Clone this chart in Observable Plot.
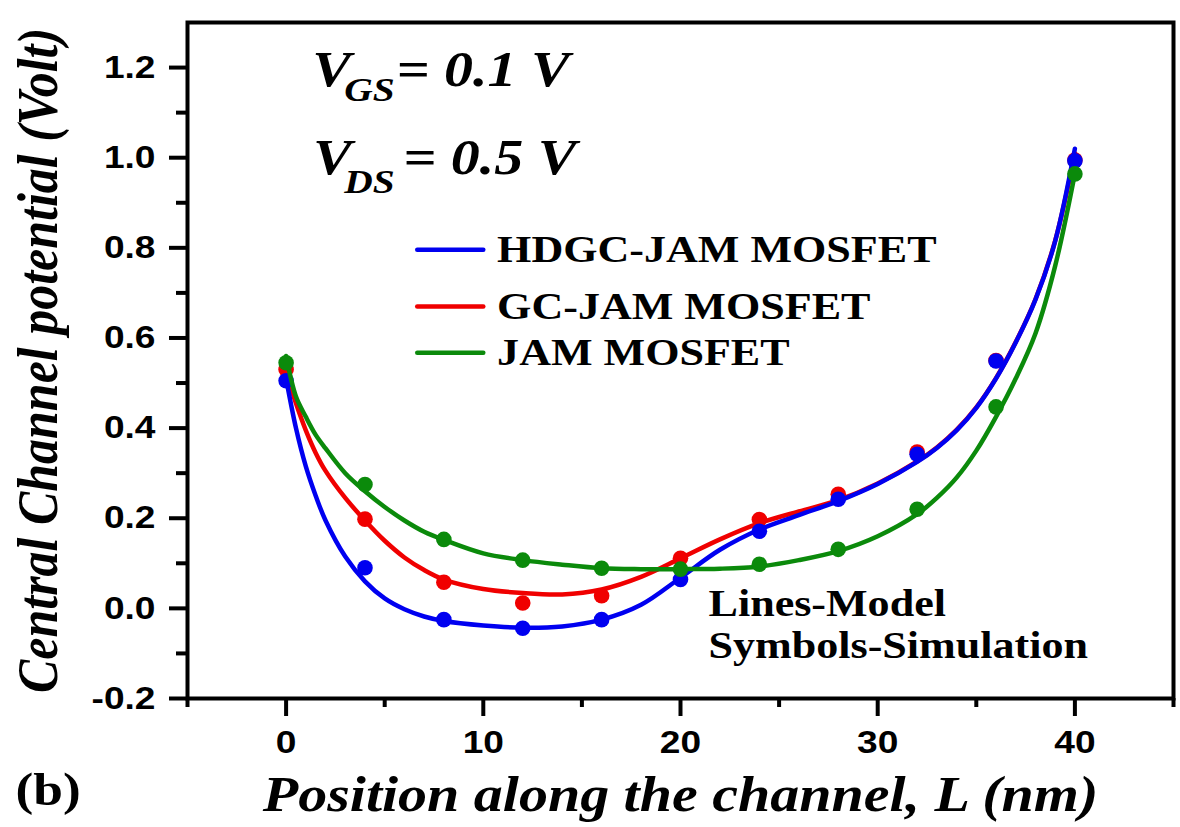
<!DOCTYPE html>
<html>
<head>
<meta charset="utf-8">
<script src="https://cdn.jsdelivr.net/npm/d3@7"></script>
<script src="https://cdn.jsdelivr.net/npm/@observablehq/plot@0.6"></script>
<style>
  html, body { margin: 0; padding: 0; background: #ffffff; }
</style>
</head>
<body>
<div id="chart"></div>
<script>
// ---- data ----
const seriesNames = ["HDGC-JAM MOSFET", "GC-JAM MOSFET", "JAM MOSFET"];
const seriesColors = ["#0000f0", "#f00000", "#0b8a0b"];

// simulation symbols
const simPositions = [0, 4, 8, 12, 16, 20, 24, 28, 32, 36, 40];
const hdgcSim = [0.505, 0.09, -0.025, -0.044, -0.025, 0.064, 0.171, 0.242, 0.342, 0.549, 0.993];
const gcSim   = [0.53, 0.198, 0.058, 0.012, 0.028, 0.111, 0.197, 0.253, 0.347, 0.55, 0.995];
const jamSim  = [0.545, 0.275, 0.153, 0.107, 0.089, 0.087, 0.098, 0.131, 0.22, 0.447, 0.964];

// model lines
const modelPositions = [0, 0.5, 1, 1.5, 2, 3, 4, 5, 6, 7, 8, 10, 12, 14, 16, 18, 20, 22, 24, 26, 28, 30, 32, 33, 34, 35, 36, 37, 38, 39, 40];
const hdgcModel = [0.51, 0.40, 0.315, 0.25, 0.195, 0.115, 0.06, 0.022, -0.002, -0.018, -0.028, -0.038, -0.043, -0.04, -0.025, 0.008, 0.068, 0.13, 0.175, 0.207, 0.238, 0.276, 0.325, 0.356, 0.395, 0.445, 0.51, 0.59, 0.685, 0.815, 1.02];
const gcModel   = [0.525, 0.455, 0.395, 0.345, 0.305, 0.245, 0.195, 0.15, 0.113, 0.085, 0.064, 0.043, 0.034, 0.031, 0.042, 0.07, 0.111, 0.153, 0.189, 0.215, 0.24, 0.277, 0.326, 0.357, 0.396, 0.446, 0.511, 0.591, 0.686, 0.816, 1.01];
const jamModel  = [0.56, 0.47, 0.425, 0.385, 0.355, 0.30, 0.26, 0.225, 0.195, 0.17, 0.152, 0.122, 0.107, 0.097, 0.089, 0.087, 0.087, 0.088, 0.093, 0.107, 0.127, 0.16, 0.209, 0.245, 0.29, 0.35, 0.425, 0.51, 0.61, 0.76, 0.965];

// ticks
const xMajorTicks = [0, 10, 20, 30, 40];
const xMinorTicks = [-5, 5, 15, 25, 35, 45];
const yMajorTicks = [-0.2, 0, 0.2, 0.4, 0.6, 0.8, 1.0, 1.2];
const yMinorTicks = [-0.1, 0.1, 0.3, 0.5, 0.7, 0.9, 1.1];

// ---- tables ----
const simValues = [hdgcSim, gcSim, jamSim];
const modelValues = [hdgcModel, gcModel, jamModel];
const simRows = (i) => simPositions.map((x, j) => ({x, y: simValues[i][j]}));
const modelRows = (i) => modelPositions.map((x, j) => ({x, y: modelValues[i][j]}));

const SANS = "'Liberation Sans', Arial, sans-serif";
const SERIF = "'Liberation Serif', 'Times New Roman', serif";

const drawOrder = [1, 0, 2];
const seriesMarks = drawOrder.flatMap(i => [
  Plot.line(modelRows(i), {x: "x", y: "y", stroke: seriesColors[i], strokeWidth: 4.5, curve: "catmull-rom"}),
  Plot.dot(simRows(i), {x: "x", y: "y", r: 7.8, fill: seriesColors[i], stroke: "none"})
]);

// legend layout (data space)
const legendY = [0.796, 0.67, 0.567];
const legendMarks = seriesNames.flatMap((name, i) => [
  Plot.link([name], {x1: () => 6.65, x2: () => 10.0, y1: () => legendY[i], y2: () => legendY[i],
    stroke: seriesColors[i], strokeWidth: 4.5, strokeLinecap: "round"}),
  Plot.text([name], {x: () => 10.7, y: () => legendY[i], text: d => d, textAnchor: "start",
    lineAnchor: "middle", fontSize: 38, fontFamily: SERIF, fontWeight: "bold", fill: "black"})
]);

const annot = (s, x, y, size) => Plot.text([s], {x: () => x, y: () => y, text: d => d,
  textAnchor: "start", lineAnchor: "bottom", fontSize: size, fontFamily: SERIF,
  fontWeight: "bold", fontStyle: "italic", fill: "black"});

const chart = Plot.plot({
  width: 1180,
  height: 827,
  marginLeft: 187,
  marginRight: 7,
  marginTop: 22,
  marginBottom: 129,
  x: {domain: [-5, 45], label: null},
  y: {domain: [-0.2, 1.3], label: null},
  style: {background: "#ffffff", color: "black", fontFamily: SANS},
  marks: [
    ...seriesMarks,
    Plot.frame({stroke: "black", strokeWidth: 4}),
    Plot.axisX({ticks: xMajorTicks, tickSize: 18, tickPadding: 14, strokeWidth: 4, label: null,
      tickFormat: d => String(d), fontSize: 32, fontWeight: "bold", fontFamily: SANS}),
    Plot.axisX({ticks: xMinorTicks, tickSize: 9, strokeWidth: 4, label: null, tickFormat: () => ""}),
    Plot.axisY({ticks: yMajorTicks, tickSize: 18, tickPadding: 14, strokeWidth: 4, label: null,
      tickFormat: d => d.toFixed(1), fontSize: 32, fontWeight: "bold", fontFamily: SANS}),
    Plot.axisY({ticks: yMinorTicks, tickSize: 11, strokeWidth: 4, label: null, tickFormat: () => ""}),
    ...legendMarks,
    annot("V", 1.32, 1.16, 50),
    annot("GS", 2.95, 1.125, 34),
    annot("= 0.1 V", 5.6, 1.16, 50),
    annot("V", 1.37, 0.964, 50),
    annot("DS", 2.95, 0.922, 34),
    annot("= 0.5 V", 5.94, 0.964, 50),
    Plot.text(["Lines-Model"], {x: () => 21.42, y: () => -0.018, text: d => d, textAnchor: "start",
      lineAnchor: "bottom", fontSize: 38, fontFamily: SERIF, fontWeight: "bold", fill: "black"}),
    Plot.text(["Symbols-Simulation"], {x: () => 21.42, y: () => -0.111, text: d => d, textAnchor: "start",
      lineAnchor: "bottom", fontSize: 38, fontFamily: SERIF, fontWeight: "bold", fill: "black"}),
    Plot.text(["Central Channel potential (Volt)"], {frameAnchor: "left", dx: -131, rotate: -90,
      text: d => d, textAnchor: "middle", lineAnchor: "bottom", fontSize: 50, fontFamily: SERIF,
      fontWeight: "bold", fontStyle: "italic", fill: "black"}),
    Plot.text(["Position along the channel, L (nm)"], {frameAnchor: "bottom", dy: 112,
      text: d => d, textAnchor: "middle", lineAnchor: "bottom", fontSize: 50, fontFamily: SERIF,
      fontWeight: "bold", fontStyle: "italic", fill: "black"}),
    Plot.text(["(b)"], {frameAnchor: "bottom-left", dx: -172, dy: 106,
      text: d => d, textAnchor: "start", lineAnchor: "bottom", fontSize: 46, fontFamily: SERIF,
      fontWeight: "bold", fill: "black"})
  ]
});

// the reference's lettering is horizontally widened; mimic it
const STRETCH = 1.16;
chart.querySelectorAll("text").forEach(t => {
  const tr = t.getAttribute("transform");
  if (tr && tr.includes("rotate")) t.setAttribute("transform", tr + ` scale(1,${STRETCH})`);
  else if (tr) t.setAttribute("transform", tr + ` scale(${STRETCH},1)`);
  else {
    const x = +t.getAttribute("x") || 0, y = +t.getAttribute("y") || 0;
    t.setAttribute("transform", `translate(${x},${y}) scale(${STRETCH},1) translate(${-x},${-y})`);
  }
});

document.getElementById("chart").appendChild(chart);
</script>
</body>
</html>
